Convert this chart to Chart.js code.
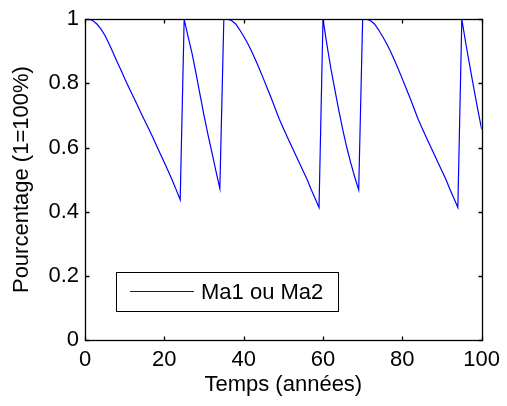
<!DOCTYPE html>
<html>
<head>
<meta charset="utf-8">
<script src="https://cdn.jsdelivr.net/npm/chart.js@4.4.1/dist/chart.umd.min.js"></script>
<style>
  html, body { margin: 0; padding: 0; background: #fff; }
  canvas { display: block; }
</style>
</head>
<body>
<canvas id="chart" width="507" height="406"></canvas>
<script>
// années (pas annuel)
const years = [
  0, 1, 2, 3, 4, 5, 6, 7, 8, 9, 10, 11, 12, 13, 14, 15, 16, 17, 18, 19, 20,
  21, 22, 23, 24, 25, 26, 27, 28, 29, 30, 31, 32, 33, 34, 35, 36, 37, 38, 39, 40,
  41, 42, 43, 44, 45, 46, 47, 48, 49, 50, 51, 52, 53, 54, 55, 56, 57, 58, 59, 60,
  61, 62, 63, 64, 65, 66, 67, 68, 69, 70, 71, 72, 73, 74, 75, 76, 77, 78, 79, 80,
  81, 82, 83, 84, 85, 86, 87, 88, 89, 90, 91, 92, 93, 94, 95, 96, 97, 98, 99, 100
];

// pourcentage par cycle
const cycle1 = [1, 1, 0.995, 0.985, 0.97, 0.95, 0.925, 0.898, 0.87, 0.843, 0.815, 0.789, 0.763,
  0.737, 0.711, 0.685, 0.66, 0.634, 0.607, 0.58, 0.553, 0.526, 0.498, 0.468, 0.437];          // 0..24
const cycle2 = [1, 0.945, 0.893, 0.83, 0.765, 0.70, 0.64, 0.585, 0.527, 0.472];             // 25..34
const cycle3 = [1, 1, 0.995, 0.985, 0.967, 0.947, 0.925, 0.90, 0.873, 0.844, 0.814, 0.783, 0.753,
  0.72, 0.688, 0.66, 0.633, 0.606, 0.58, 0.553, 0.527, 0.50, 0.47, 0.442, 0.413];             // 35..59
const cycle4 = [1, 0.92, 0.845, 0.78, 0.715, 0.655, 0.60, 0.552, 0.508, 0.468];              // 60..69
const cycle5 = [1, 1, 0.995, 0.985, 0.967, 0.947, 0.925, 0.90, 0.873, 0.844, 0.814, 0.783, 0.753,
  0.72, 0.688, 0.66, 0.633, 0.606, 0.58, 0.553, 0.527, 0.50, 0.47, 0.442, 0.413];             // 70..94
const cycle6 = [1, 0.925, 0.855, 0.787, 0.72, 0.657];                                          // 95..100

const seriesLabel = 'Ma1 ou Ma2';
const xTicks = [0, 20, 40, 60, 80, 100];
const xTickLabels = ['0', '20', '40', '60', '80', '100'];
const yTicks = [0, 0.2, 0.4, 0.6, 0.8, 1];
const yTickLabels = ['0', '0.2', '0.4', '0.6', '0.8', '1'];

const values = [].concat(cycle1, cycle2, cycle3, cycle4, cycle5, cycle6);
const points = years.map((x, i) => ({ x: x, y: values[i] }));

const font = { family: "'Liberation Sans', Arial, sans-serif", size: 22 };

// cadre complet + graduations vers l'intérieur (style MATLAB)
const framePlugin = {
  id: 'frame',
  afterDatasetsDraw(chart) {
    const { ctx, chartArea: a, scales: { x, y } } = chart;
    const l = Math.round(a.left) + 0.5, r = Math.round(a.right) + 0.5;
    const t = Math.round(a.top) + 0.5, b = Math.round(a.bottom) + 0.5;
    ctx.save();
    ctx.strokeStyle = '#000';
    ctx.lineWidth = 1.3;
    ctx.strokeRect(l, t, r - l, b - t);
    ctx.beginPath();
    xTicks.forEach(v => {
      const px = Math.round(x.getPixelForValue(v)) + 0.5;
      ctx.moveTo(px, b); ctx.lineTo(px, b - 4);
      ctx.moveTo(px, t); ctx.lineTo(px, t + 4);
    });
    yTicks.forEach(v => {
      const py = Math.round(y.getPixelForValue(v)) + 0.5;
      ctx.moveTo(l, py); ctx.lineTo(l + 4, py);
      ctx.moveTo(r, py); ctx.lineTo(r - 4, py);
    });
    ctx.stroke();
    ctx.restore();
  }
};

// légende encadrée dans la zone du graphique
const boxLegendPlugin = {
  id: 'boxLegend',
  afterDraw(chart) {
    const { ctx, chartArea: a } = chart;
    const ds = chart.data.datasets[0];
    const bx = Math.round(a.left) + 31.5, by = Math.round(a.bottom) - 67.5;
    ctx.save();
    ctx.fillStyle = '#fff';
    ctx.fillRect(bx, by, 222, 39);
    ctx.strokeStyle = '#000';
    ctx.lineWidth = 1;
    ctx.strokeRect(bx, by, 222, 39);
    ctx.strokeStyle = ds.borderColor;
    ctx.lineWidth = ds.borderWidth;
    ctx.beginPath();
    ctx.moveTo(a.left + 45, a.bottom - 48.5);
    ctx.lineTo(a.left + 109, a.bottom - 48.5);
    ctx.stroke();
    ctx.fillStyle = '#000';
    ctx.font = font.size + 'px ' + font.family;
    ctx.textBaseline = 'middle';
    ctx.fillText(ds.label, a.left + 116, a.bottom - 47.5);
    ctx.restore();
  }
};

new Chart(document.getElementById('chart'), {
  type: 'line',
  data: {
    datasets: [{
      label: seriesLabel,
      data: points,
      borderColor: '#0000ff',
      borderWidth: 1.2,
      pointRadius: 0,
      tension: 0,
      fill: false
    }]
  },
  options: {
    responsive: false,
    animation: false,
    layout: { padding: { top: 14, right: 25, left: 0, bottom: 0 } },
    plugins: {
      legend: { display: false },
      tooltip: { enabled: false }
    },
    scales: {
      x: {
        type: 'linear',
        min: 0,
        max: 100,
        afterBuildTicks: s => { s.ticks = xTicks.map(v => ({ value: v })); },
        afterFit: s => { s.height = 66; },
        grid: { drawOnChartArea: false, drawTicks: false },
        border: { display: false },
        ticks: {
          color: '#000',
          font: font,
          padding: 7,
          maxRotation: 0,
          autoSkip: false,
          callback: v => xTickLabels[xTicks.indexOf(v)]
        },
        title: {
          display: true,
          text: 'Temps (années)',
          color: '#000',
          font: font,
          padding: { top: 0, bottom: 8 }
        }
      },
      y: {
        type: 'linear',
        min: 0,
        max: 1,
        afterBuildTicks: s => { s.ticks = yTicks.map(v => ({ value: v })); },
        afterFit: s => { s.width = 85; },
        grid: { drawOnChartArea: false, drawTicks: false },
        border: { display: false },
        ticks: {
          color: '#000',
          font: font,
          padding: 6,
          autoSkip: false,
          callback: v => yTickLabels[yTicks.indexOf(v)]
        },
        title: {
          display: true,
          text: 'Pourcentage (1=100%)',
          color: '#000',
          font: font,
          padding: { top: 9, bottom: 0 }
        }
      }
    }
  },
  plugins: [framePlugin, boxLegendPlugin]
});
</script>
</body>
</html>
